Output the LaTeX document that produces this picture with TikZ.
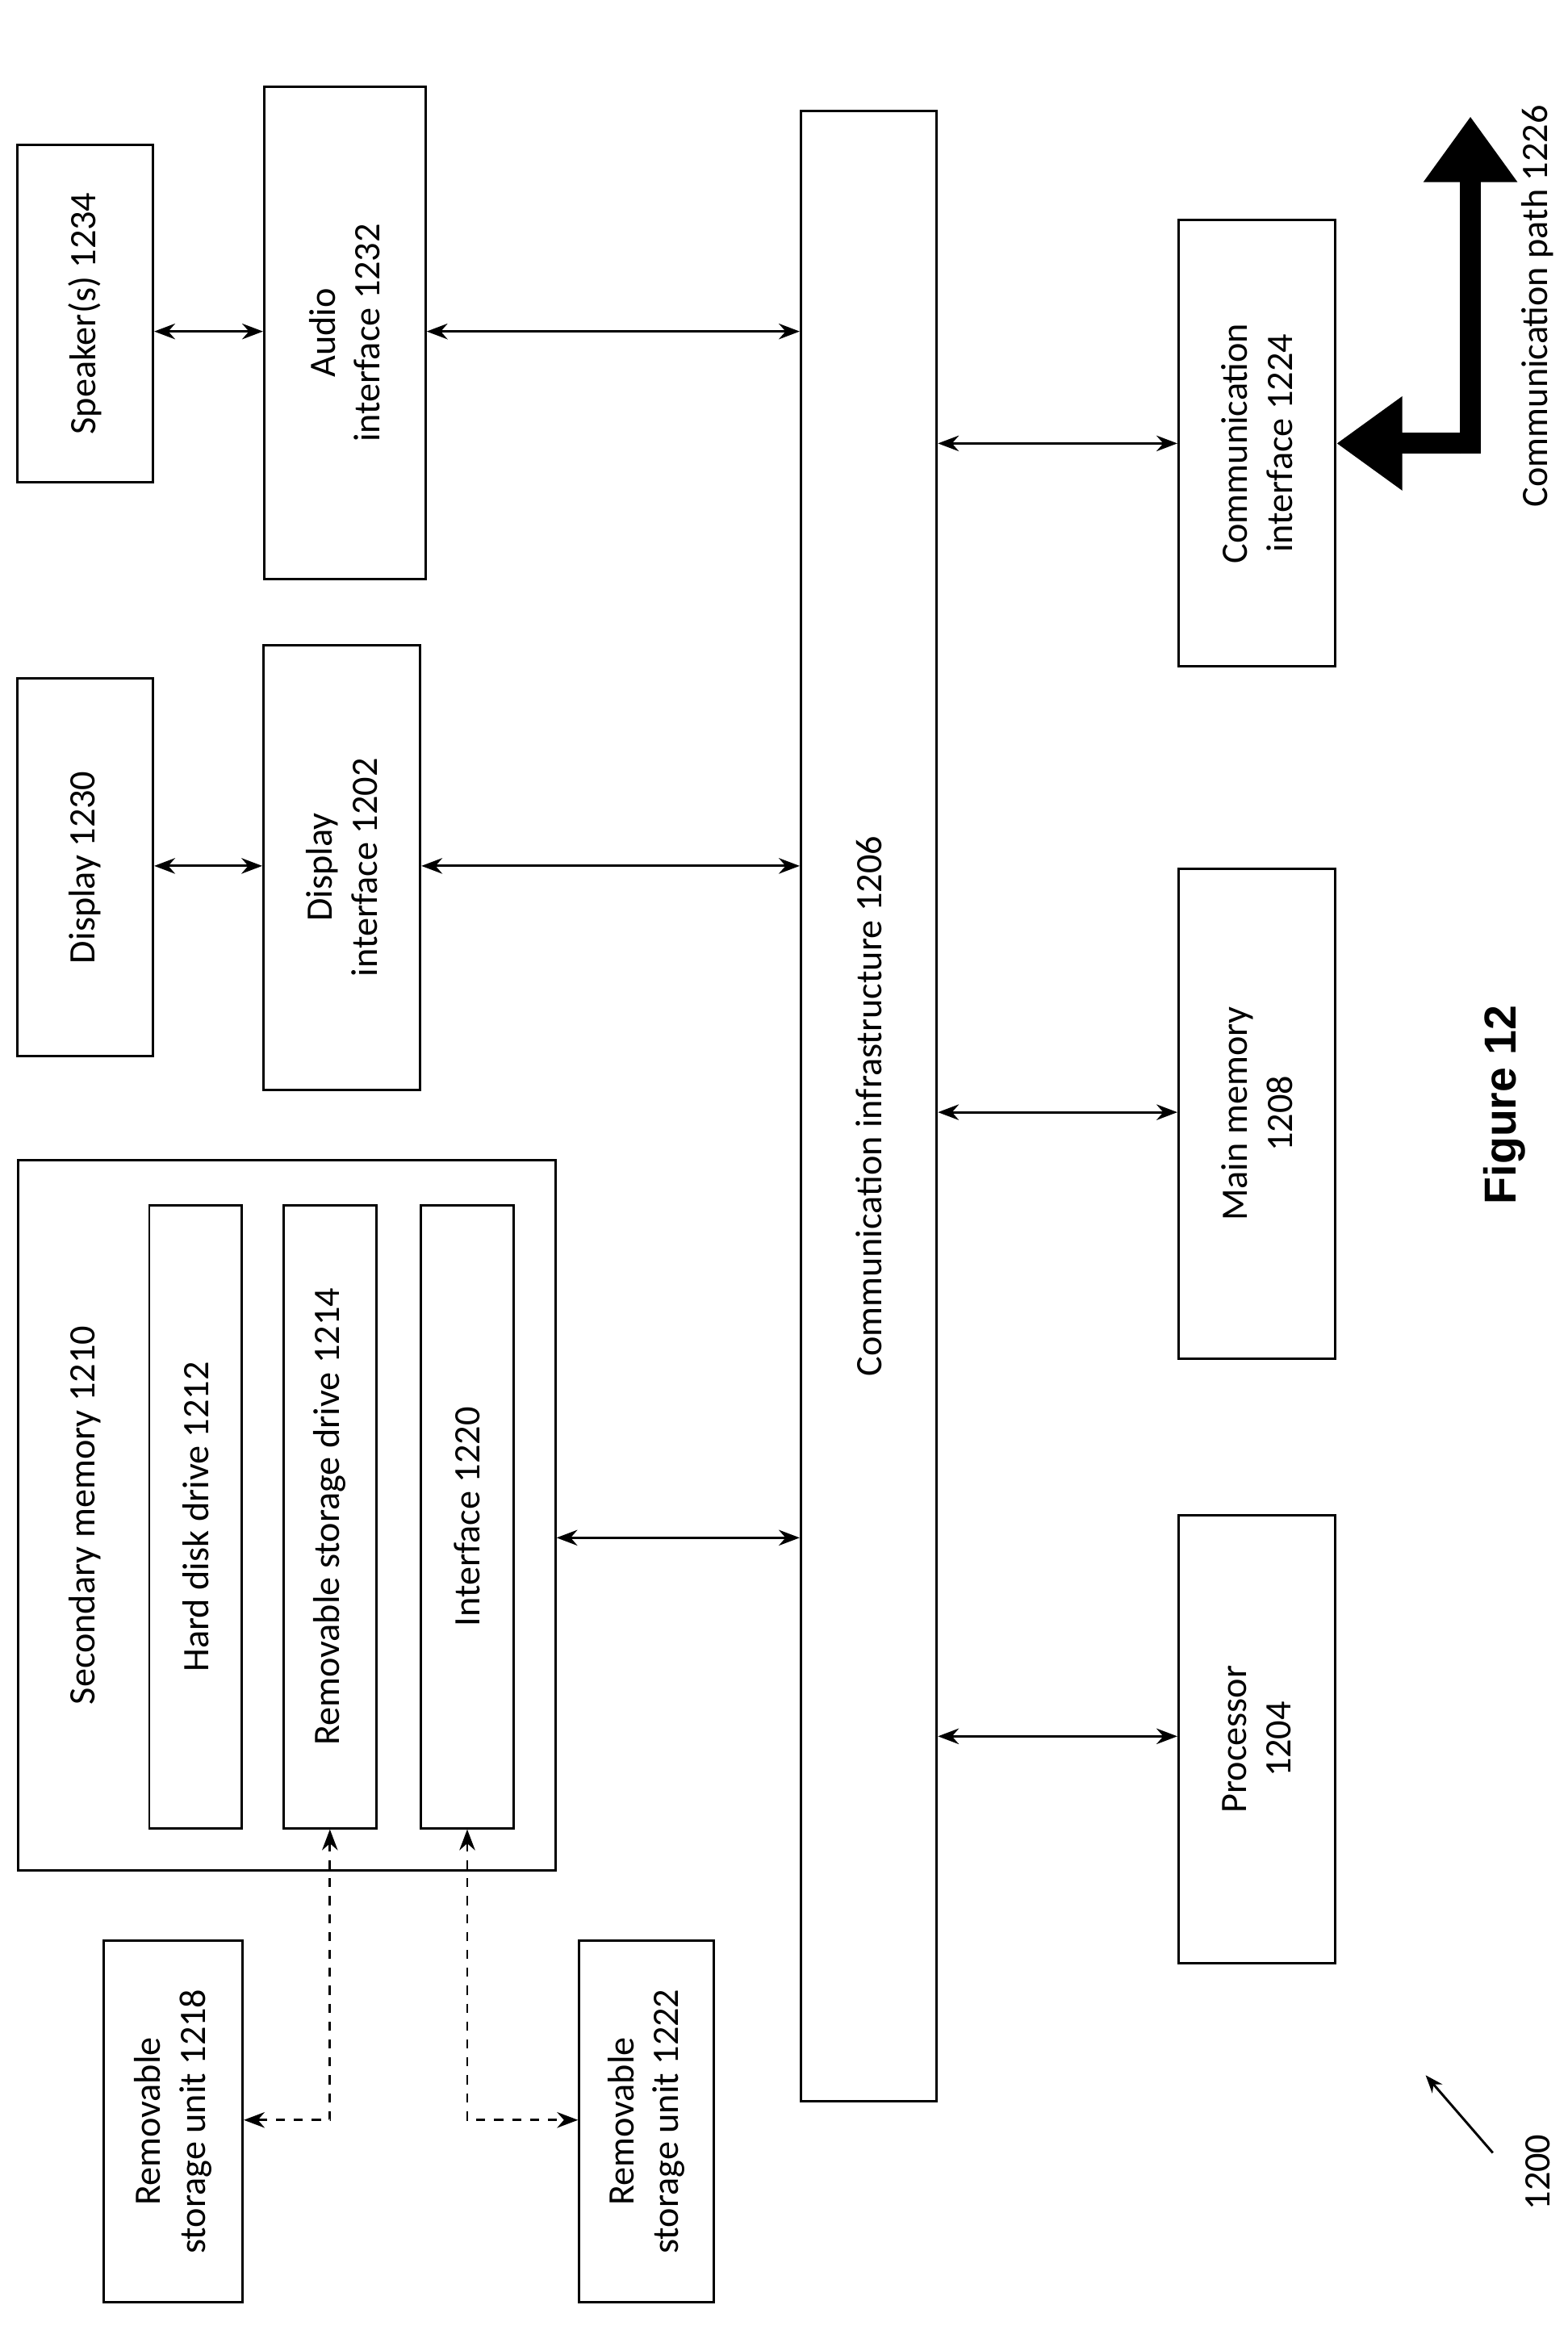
\documentclass[tikz,border=0pt]{standalone}
\usepackage{fontspec}
\setmainfont{Carlito}
\newfontfamily\figfont{Liberation Sans}
\usetikzlibrary{arrows.meta}

\tikzstyle{box}=[draw, thick, rotate=90, align=center, inner sep=2pt,
               font=\fontsize{12.5}{15}\selectfont]
\tikzstyle{link}=[draw, thick, {Stealth[length=7pt]}-{Stealth[length=7pt]}]
\tikzstyle{dlink}=[draw, thick, dashed, {Stealth[length=7pt]}-{Stealth[length=7pt]}]

\begin{document}
\begin{tikzpicture}[x=0.5pt, y=-0.5pt]
    \useasboundingbox (0,0) rectangle (1050,1558);
    % boxes: center / size along y / size along x / name / text
    \foreach \pos/\w/\h/\name/\txt in {
      {(57,210)/226/91/spk/Speaker(s) 1234},
      {(231,223)/330/108/aud/Audio\\interface 1232},
      {(57,581)/253/91/dsp/Display 1230},
      {(229,581)/298/105/dspif/Display\\interface 1202},
      {(582,741)/1333/91/infra/Communication infrastructure 1206},
      {(842,297)/299/105/comif/Communication\\interface 1224},
      {(842,746)/328/105/mem/Main memory\\1208},
      {(842,1165)/300/105/proc/Processor\\1204},
      {(116,1421)/242/93/rsu1/Removable\\storage unit 1218},
      {(433,1421)/242/90/rsu2/Removable\\storage unit 1222}}
      \node[box, minimum width=\w*0.5pt, minimum height=\h*0.5pt] (\name) at \pos {\txt};
    % secondary memory and its parts
    \node[draw, thick, rotate=90, minimum width=238pt, minimum height=180pt] (sec) at (192,1015) {};
    \node[rotate=90, font=\fontsize{12.5}{15}\selectfont] (sectxt) at (57,1015) {Secondary memory 1210};
    \foreach \x/\name/\txt in {131/hdd/Hard disk drive 1212,
        221/rsd/Removable storage drive 1214, 313/intf/Interface 1220}
      \node[box, minimum width=208.5pt, minimum height=31pt] (\name) at (\x,1016) {\txt};
    % connections
    \path[link] (spk.south |- 0,222) -- (aud.north |- 0,222);
    \path[link] (aud.south |- 0,222) -- (infra.north |- 0,222);
    \path[link] (dsp.south |- 0,580) -- (dspif.north |- 0,580);
    \path[link] (dspif.south |- 0,580) -- (infra.north |- 0,580);
    \path[link] (sec.south |- 0,1030) -- (infra.north |- 0,1030);
    \path[link] (infra.south |- 0,297) -- (comif.north |- 0,297);
    \path[link] (infra.south |- 0,745) -- (mem.north |- 0,745);
    \path[link] (infra.south |- 0,1163) -- (proc.north |- 0,1163);
    \path[dlink] (rsd.west) |- (rsu1.south |- 0,1420);
    \path[dlink] (intf.west) |- (rsu2.north |- 0,1420);
    % communication path
    \coordinate (bend) at (985,297);
    \coordinate (top) at (985,78);
    \draw[line width=7pt, -{Triangle[length=22pt, width=30pt]}] ([yshift=-3.5pt]bend) -- (top);
    \draw[line width=7pt, -{Triangle[length=22pt, width=30pt]}] (bend) -- (comif.south);
    \node[rotate=90, font=\fontsize{12.5}{15}\selectfont] (path) at (1030,205) {Communication path 1226};
    \node[rotate=90, font=\figfont\bfseries\fontsize{15}{18}\selectfont] (fig) at (1008,740) {Figure 12};
    \node[rotate=90, font=\fontsize{12.5}{15}\selectfont] (num) at (1030,1455) {1200};
    \coordinate (numend) at (955,1390);
    \draw[thick, -{Stealth[length=6pt]}] (1000,1442) -- (numend);
\end{tikzpicture}
\end{document}
